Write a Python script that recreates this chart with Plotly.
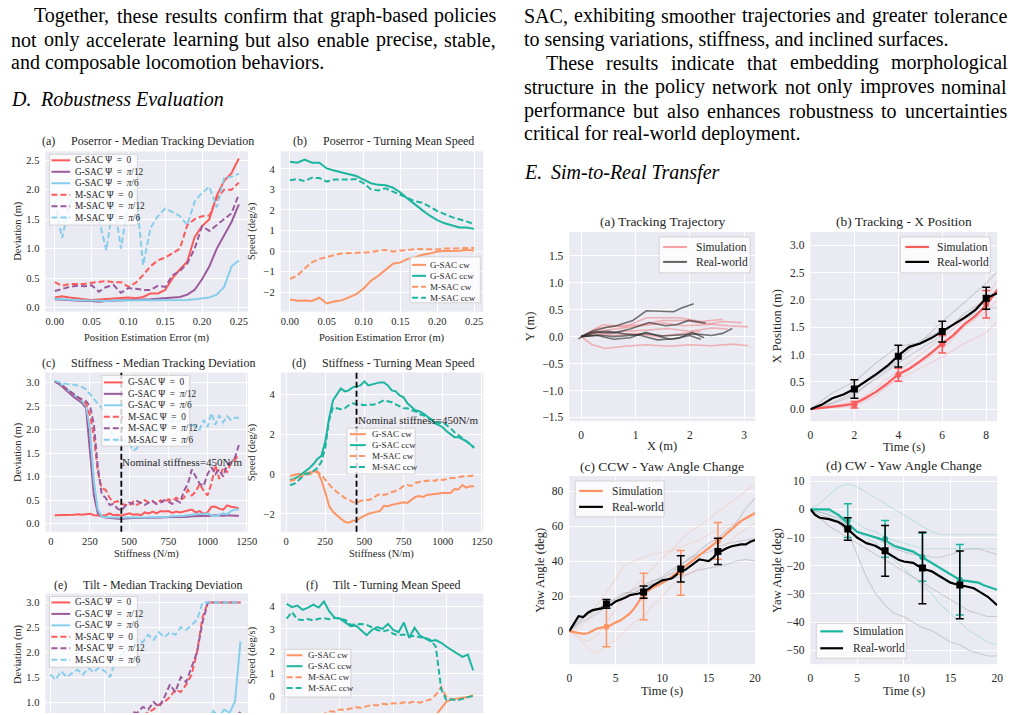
import plotly.graph_objects as go

W, H = 1021, 715
FONT = "Liberation Serif"
INK = "#262626"
BG = "#EAEAF2"
RED = "#fb5b5b"; PURPLE = "#9b5a9b"; SKY = "#87ceeb"
ORANGE = "#fd9463"; TEAL = "#1bb5a0"

# ---------------- data ----------------
POS_ERR = [0.00, 0.01, 0.02, 0.03, 0.04, 0.05, 0.06, 0.07, 0.08, 0.09, 0.10, 0.11, 0.12,
           0.13, 0.14, 0.15, 0.16, 0.17, 0.18, 0.19, 0.20, 0.21, 0.22, 0.23, 0.24, 0.25]
A_G0 = [0.17, 0.19, 0.17, 0.15, 0.14, 0.13, 0.14, 0.14, 0.16, 0.16, 0.17, 0.16, 0.18, 0.24, 0.24, 0.30, 0.50, 0.65, 0.78, 1.20, 1.38, 1.50, 1.90, 2.15, 2.28, 2.53]
A_G12 = [0.14, 0.13, 0.12, 0.12, 0.11, 0.11, 0.10, 0.11, 0.12, 0.12, 0.13, 0.13, 0.13, 0.14, 0.15, 0.16, 0.17, 0.18, 0.22, 0.30, 0.48, 0.70, 1.00, 1.22, 1.45, 1.75]
A_G6 = [0.15, 0.14, 0.13, 0.13, 0.12, 0.12, 0.11, 0.11, 0.12, 0.12, 0.12, 0.12, 0.12, 0.12, 0.13, 0.13, 0.13, 0.13, 0.13, 0.14, 0.16, 0.17, 0.22, 0.35, 0.70, 0.80]
A_M0 = [0.43, 0.37, 0.40, 0.40, 0.40, 0.42, 0.44, 0.45, 0.43, 0.43, 0.35, 0.42, 0.55, 0.70, 0.80, 0.85, 0.92, 1.00, 1.40, 1.50, 1.55, 1.56, 1.85, 2.00, 2.00, 2.12]
A_M12 = [0.28, 0.32, 0.35, 0.37, 0.36, 0.38, 0.27, 0.35, 0.38, 0.25, 0.33, 0.32, 0.30, 0.30, 0.37, 0.35, 0.55, 0.62, 0.75, 1.00, 1.38, 1.30, 1.40, 1.50, 1.60, 1.92]
A_M6 = [1.80, 1.18, 1.75, 1.95, 2.00, 1.80, 1.50, 0.97, 1.80, 1.00, 1.80, 2.00, 0.72, 1.35, 1.55, 1.68, 1.62, 1.55, 1.40, 1.80, 1.95, 2.05, 1.70, 2.20, 2.22, 2.27]

B_Gcw = [-2.35, -2.42, -2.40, -2.43, -2.27, -2.55, -2.45, -2.40, -2.25, -2.10, -1.82, -1.45, -1.20, -0.92, -0.62, -0.55, -0.38, -0.30, -0.18, -0.12, -0.02, 0.00, 0.00, 0.02, 0.05, 0.03]
B_Gccw = [4.35, 4.30, 4.45, 4.30, 4.30, 4.02, 3.92, 3.82, 3.73, 3.65, 3.48, 3.30, 3.22, 3.20, 3.08, 2.85, 2.55, 2.25, 1.98, 1.72, 1.50, 1.35, 1.25, 1.15, 1.15, 1.08]
B_Mcw = [-1.35, -1.20, -0.85, -0.55, -0.38, -0.28, -0.20, -0.12, -0.10, -0.08, -0.05, -0.05, 0.02, 0.05, -0.02, 0.00, 0.05, 0.10, 0.10, 0.10, 0.08, 0.12, 0.12, 0.15, 0.15, 0.15]
B_Mccw = [3.45, 3.50, 3.40, 3.57, 3.55, 3.38, 3.48, 3.47, 3.48, 3.50, 3.30, 3.00, 2.95, 3.05, 2.90, 2.75, 2.60, 2.42, 2.35, 2.15, 1.95, 1.80, 1.65, 1.55, 1.45, 1.32]

STIFF = [25, 50, 75, 100, 125, 150, 175, 200, 225, 250, 275, 300, 325, 350, 375, 400,
         425, 450, 475, 500, 525, 550, 575, 600, 625, 650, 675, 700, 725, 750, 775, 800,
         825, 850, 875, 900, 925, 950, 975, 1000, 1025, 1050, 1075, 1100, 1125, 1150, 1175, 1200]
C_G0 = [0.18, 0.18, 0.18, 0.18, 0.19, 0.19, 0.20, 0.19, 0.20, 0.21, 0.18, 0.17, 0.17, 0.18, 0.22, 0.18,
        0.19, 0.17, 0.20, 0.22, 0.19, 0.20, 0.18, 0.24, 0.22, 0.26, 0.22, 0.27, 0.26, 0.27, 0.23, 0.26,
        0.24, 0.26, 0.28, 0.30, 0.24, 0.27, 0.21, 0.24, 0.36, 0.36, 0.32, 0.30, 0.39, 0.36, 0.35, 0.32]
C_G12 = [3.02, 2.97, 2.90, 2.82, 2.76, 2.68, 2.62, 2.56, 2.45, 1.60, 0.60, 0.22, 0.15, 0.13, 0.12, 0.11,
         0.11, 0.10, 0.11, 0.12, 0.12, 0.12, 0.12, 0.12, 0.13, 0.13, 0.13, 0.13, 0.14, 0.14, 0.14, 0.14,
         0.15, 0.15, 0.15, 0.16, 0.16, 0.16, 0.17, 0.17, 0.17, 0.18, 0.17, 0.17, 0.18, 0.17, 0.17, 0.17]
C_G6 = [3.03, 3.00, 2.93, 2.86, 2.80, 2.72, 2.66, 2.60, 2.50, 2.00, 0.90, 0.30, 0.15, 0.14, 0.13, 0.13,
        0.13, 0.12, 0.13, 0.13, 0.12, 0.13, 0.13, 0.13, 0.14, 0.14, 0.14, 0.15, 0.15, 0.15, 0.16, 0.16,
        0.17, 0.17, 0.18, 0.19, 0.20, 0.21, 0.20, 0.22, 0.18, 0.16, 0.19, 0.22, 0.20, 0.27, 0.30, 0.30]
C_M0 = [3.02, 2.98, 2.92, 2.85, 2.80, 2.74, 2.68, 2.62, 2.55, 2.30, 1.85, 1.10, 0.75, 0.72, 0.55, 0.45,
        0.48, 0.42, 0.40, 0.38, 0.47, 0.40, 0.45, 0.50, 0.45, 0.48, 0.42, 0.50, 0.45, 0.52, 0.48, 0.55,
        0.50, 0.55, 0.72, 0.60, 0.68, 0.85, 0.70, 0.60, 0.85, 1.25, 0.95, 1.20, 1.10, 1.30, 1.35, 1.48]
C_M12 = [3.02, 2.97, 2.93, 2.86, 2.80, 2.74, 2.68, 2.64, 2.60, 2.50, 2.10, 1.20, 0.62, 0.55, 0.40, 0.42,
         0.32, 0.28, 0.38, 0.45, 0.42, 0.48, 0.45, 0.40, 0.45, 0.48, 0.42, 0.45, 0.50, 0.47, 0.42, 0.50,
         0.45, 0.70, 0.85, 1.15, 1.00, 0.85, 0.80, 1.05, 1.20, 1.05, 1.15, 1.00, 1.25, 1.30, 1.40, 1.67]
C_M6 = [3.03, 3.00, 2.98, 2.97, 2.95, 2.95, 2.93, 2.90, 2.85, 2.75, 2.65, 2.55, 2.45, 2.35, 2.10, 1.80,
        1.75, 1.78, 1.75, 1.72, 1.55, 1.60, 1.85, 1.95, 1.90, 2.00, 1.95, 2.05, 2.10, 2.15, 2.20, 2.15,
        2.20, 2.10, 2.05, 2.10, 2.05, 2.00, 2.20, 2.05, 2.35, 2.10, 2.30, 2.15, 2.28, 2.20, 2.25, 2.25]

D_Gcw = [-0.10, -0.05, 0.00, 0.00, 0.05, 0.10, 0.12, 0.15, -0.30, -0.90, -1.60, -1.90, -2.10, -2.25, -2.40, -2.45,
         -2.35, -2.35, -2.20, -2.10, -2.00, -1.95, -1.90, -1.85, -1.60, -1.62, -1.55, -1.50, -1.48, -1.42, -1.45, -1.28,
         -1.15, -1.10, -1.15, -1.05, -1.02, -1.00, -0.98, -0.95, -0.95, -0.95, -0.75, -0.78, -0.55, -0.68, -0.62, -0.62]
D_Gccw = [-0.30, -0.25, -0.15, 0.00, 0.15, 0.30, 0.50, 0.75, 0.90, 1.60, 2.80, 3.70, 4.00, 4.30, 4.15, 4.20,
          4.35, 4.40, 4.45, 4.65, 4.45, 4.50, 4.55, 4.60, 4.60, 4.45, 4.20, 4.15, 3.95, 3.85, 3.55, 3.35,
          3.20, 3.15, 3.05, 2.90, 2.75, 2.55, 2.45, 2.35, 2.15, 2.00, 1.85, 1.85, 1.75, 1.65, 1.50, 1.30]
D_Mcw = [-0.35, -0.30, -0.20, -0.10, -0.05, 0.00, 0.05, 0.10, -0.05, -0.30, -0.55, -0.75, -0.90, -1.05, -1.20, -1.30,
         -1.40, -1.45, -1.35, -1.30, -1.30, -1.25, -1.10, -1.00, -1.05, -1.00, -0.90, -0.85, -0.75, -0.60, -0.55, -0.60,
         -0.45, -0.40, -0.35, -0.35, -0.30, -0.35, -0.25, -0.30, -0.25, -0.20, -0.20, -0.15, -0.12, -0.10, -0.10, -0.05]
D_Mccw = [-0.55, -0.50, -0.35, -0.15, 0.00, 0.05, 0.15, 0.30, 0.60, 1.30, 2.70, 3.35, 3.30, 3.25, 3.30, 3.45,
          3.55, 3.50, 3.50, 3.45, 3.50, 3.48, 3.50, 3.60, 3.70, 3.65, 3.60, 3.50, 3.40, 3.30, 3.30, 3.20,
          3.15, 3.00, 2.95, 2.85, 2.75, 2.65, 2.55, 2.60, 2.45, 2.30, 2.10, 1.95, 1.80, 1.65, 1.50, 1.35]

TILT = [0.0, 0.5, 1.0, 1.5, 2.0, 2.5, 3.0, 3.5, 4.0, 4.5, 5.0, 5.5, 6.0, 6.5, 7.0, 7.5, 8.0, 8.5,
        9.0, 9.5, 10.0, 10.5, 11.0, 11.5, 12.0, 12.5, 13.0, 13.5, 14.0, 14.5, 15.0, 15.5, 16.0, 16.5, 17.0, 17.5]
E_G0 = [0.15, 0.16, 0.15, 0.17, 0.16, 0.18, 0.17, 0.18, 0.19, 0.18, 0.20, 0.19, 0.21, 0.20, 0.22, 0.21, 0.23, 0.22,
        0.25, 0.24, 0.26, 0.25, 0.28, 0.27, 0.30, 0.29, 0.32, 0.35, 0.33, 0.38, 0.42, 0.45, 0.50, 0.55, 0.65, 0.76]
E_G12 = [0.12, 0.12, 0.13, 0.12, 0.13, 0.13, 0.14, 0.13, 0.14, 0.14, 0.15, 0.14, 0.15, 0.16, 0.15, 0.16, 0.17, 0.16,
         0.17, 0.18, 0.18, 0.19, 0.20, 0.21, 0.22, 0.23, 0.25, 0.27, 0.30, 0.33, 0.38, 0.45, 0.52, 0.60, 0.70, 0.80]
E_G6 = [0.13, 0.13, 0.14, 0.13, 0.14, 0.14, 0.15, 0.14, 0.15, 0.15, 0.16, 0.15, 0.16, 0.17, 0.16, 0.17, 0.18, 0.17,
        0.18, 0.19, 0.20, 0.21, 0.22, 0.24, 0.26, 0.28, 0.30, 0.35, 0.45, 0.60, 0.82, 0.70, 0.85, 0.78, 1.02, 2.22]
E_M0 = [0.35, 0.38, 0.36, 0.40, 0.42, 0.40, 0.45, 0.43, 0.48, 0.50, 0.47, 0.55, 0.52, 0.58, 0.62, 0.60, 0.68, 0.72,
        0.80, 0.85, 0.95, 1.00, 1.10, 1.25, 1.20, 1.35, 1.55, 2.00, 2.70, 3.00, 3.00, 3.00, 3.00, 3.00, 3.00, 3.00]
E_M12 = [0.30, 0.33, 0.32, 0.36, 0.38, 0.36, 0.40, 0.42, 0.45, 0.48, 0.46, 0.52, 0.55, 0.60, 0.65, 0.80, 0.78, 0.90,
         0.85, 1.00, 0.90, 1.10, 1.35, 1.20, 1.50, 1.40, 1.70, 2.00, 2.60, 3.00, 3.00, 3.00, 3.00, 3.00, 3.00, 3.00]
E_M6 = [1.55, 1.45, 1.62, 1.50, 1.58, 1.65, 1.55, 1.68, 1.60, 1.70, 1.62, 1.50, 1.85, 1.95, 2.05, 2.15, 2.25, 2.20,
        2.35, 2.25, 2.40, 2.30, 2.40, 2.35, 2.50, 2.45, 2.55, 2.65, 3.00, 3.00, 3.00, 3.00, 3.00, 3.00, 3.00, 3.00]

F_Gcw = [-2.40, -2.38, -2.35, -2.30, -2.28, -2.25, -2.20, -2.15, -2.10, -2.05, -2.00, -1.95, -1.90, -1.85, -1.80, -1.75, -1.70, -1.65,
         -1.60, -1.55, -1.50, -1.45, -1.40, -1.35, -1.30, -1.20, -1.10, -1.00, -0.85, -0.55, -0.25, -0.15, -0.12, -0.10, -0.05, 0.03]
F_Gccw = [4.12, 3.97, 4.04, 3.85, 3.95, 4.08, 3.95, 4.22, 3.78, 3.50, 3.46, 3.30, 3.12, 3.15, 2.95, 2.72, 2.95, 3.08,
          3.00, 3.22, 2.95, 2.85, 3.28, 2.60, 3.05, 2.70, 2.58, 2.45, 2.50, 2.38, 2.20, 2.05, 1.90, 1.75, 1.85, 1.15]
F_Mcw = [-1.30, -1.25, -1.20, -1.10, -1.05, -0.95, -0.90, -0.80, -0.68, -0.70, -0.60, -0.62, -0.55, -0.50, -0.52, -0.45, -0.40, -0.42,
         -0.35, -0.38, -0.32, -0.35, -0.28, -0.30, -0.25, -0.30, -0.22, -0.15, 0.05, 0.40, -0.05, -0.15, -0.18, -0.10, -0.05, 0.02]
F_Mccw = [3.46, 3.75, 3.42, 3.40, 3.44, 3.38, 3.45, 3.48, 3.43, 3.50, 3.45, 3.40, 3.18, 3.20, 3.22, 3.18, 3.05, 2.95,
          2.88, 2.95, 2.78, 2.72, 2.75, 2.65, 2.70, 2.62, 2.60, 2.50, 2.20, 0.30, -0.20, -0.15, -0.20, -0.12, -0.05, 0.00]

# Right (a) trajectories
RA_REAL_X = [[-0.05, 0, 0.2, 0.45, 0.65, 0.95, 1.2, 1.4, 1.7, 1.85, 2.07],
             [0, 0.3, 0.6, 0.9, 1.25, 1.55, 1.75, 1.98, 2.29],
             [0, 0.3, 0.6, 0.9, 1.2, 1.5, 1.8, 2.1, 2.4, 2.6, 2.78],
             [0, 0.3, 0.6, 0.9, 1.19, 1.4, 1.62, 1.8, 2.04, 2.26],
             [0, 0.2, 0.5, 0.8, 1.1, 1.4, 1.7, 2.0, 2.2]]
RA_REAL_Y = [[-0.05, 0, 0.1, 0.17, 0.2, 0.3, 0.48, 0.47, 0.46, 0.53, 0.61],
             [0, 0.08, 0.07, 0.14, 0.26, 0.2, 0.22, 0.3, 0.25],
             [0, 0.03, 0.0, 0.02, 0.06, 0.01, 0.03, 0.05, 0.02, 0.06, 0.15],
             [0, 0.02, -0.05, -0.02, 0.08, 0.02, -0.05, -0.03, 0.08, -0.02],
             [0, 0.08, 0.1, 0.05, 0.02, -0.06, -0.04, 0.02, -0.05]]
RA_SIM_X = [[0, 0.3, 0.7, 1.1, 1.5, 1.9, 2.3, 2.7, 3.07],
            [0, 0.3, 0.7, 1.1, 1.5, 1.9, 2.3, 2.6, 2.95],
            [0, 0.4, 0.8, 1.2, 1.8, 2.2, 2.6],
            [0, 0.2, 0.45, 0.8, 1.2, 1.6, 2.0, 2.4, 2.8, 3.07],
            [0, 0.4, 0.8, 1.2, 1.6, 2.0, 2.4, 2.7],
            [0, 0.3, 0.6, 1.0, 1.4, 1.8, 2.2]]
RA_SIM_Y = [[0, 0.15, 0.2, 0.22, 0.3, 0.3, 0.24, 0.2, 0.18],
            [0, 0.1, 0.15, 0.2, 0.25, 0.2, 0.22, 0.28, 0.26],
            [0, 0.22, 0.18, 0.35, 0.35, 0.28, 0.32],
            [0, -0.15, -0.22, -0.18, -0.15, -0.18, -0.15, -0.17, -0.14, -0.17],
            [0, 0.05, 0.1, 0.12, 0.15, 0.1, 0.16, 0.14],
            [0, 0.08, 0.02, 0.06, 0.0, 0.05, 0.1]]

# Right (b) X position
RB_T = [0, 0.5, 1, 1.5, 2, 2.5, 3, 3.5, 4, 4.5, 5, 5.5, 6, 6.5, 7, 7.5, 8, 8.5]
RB_REAL = [0, 0.08, 0.2, 0.27, 0.37, 0.5, 0.64, 0.79, 0.98, 1.14, 1.2, 1.3, 1.42, 1.54, 1.67, 1.81, 2.03, 2.12]
RB_SIM = [0, 0.02, 0.04, 0.07, 0.1, 0.2, 0.32, 0.47, 0.64, 0.74, 0.88, 1.03, 1.2, 1.35, 1.55, 1.7, 1.9, 2.18]
RB_RUN_T = [0, 1, 2, 3, 4, 5, 6, 7, 8, 8.5]
RB_REAL_RUNS = [[0, 0.30, 0.50, 0.85, 1.15, 1.22, 1.60, 1.95, 2.30, 2.52],
                [0, 0.10, 0.25, 0.60, 0.90, 1.25, 1.45, 1.65, 1.85, 1.85],
                [0, 0.12, 0.30, 0.55, 0.85, 1.10, 1.35, 1.75, 2.00, 2.20]]
RB_SIM_RUNS = [[0, 0.05, 0.15, 0.30, 0.55, 0.75, 0.95, 1.20, 1.40, 1.60],
               [0, 0.03, 0.08, 0.40, 0.70, 1.00, 1.30, 1.65, 2.05, 2.35],
               [0, 0.02, 0.05, 0.25, 0.60, 0.85, 1.10, 1.50, 1.80, 2.00]]
RB_ERR_T = [2, 4, 6, 8]
RB_REAL_PTS = [0.37, 0.97, 1.42, 2.03]; RB_REAL_ERR = [0.17, 0.20, 0.19, 0.20]
RB_SIM_PTS = [0.08, 0.63, 1.19, 1.92]; RB_SIM_ERR = [0.06, 0.12, 0.16, 0.25]

# Right (c),(d) yaw
YAW_T = [0, 0.5, 1, 1.5, 2, 2.5, 3, 3.5, 4, 4.5, 5, 5.5, 6, 6.5, 7, 7.5, 8, 8.5, 9, 9.5, 10,
         10.5, 11, 11.5, 12, 12.5, 13, 13.5, 14, 14.5, 15, 15.5, 16, 16.5, 17, 17.5, 18, 18.5, 19, 19.5, 20]
RC_REAL = [0, 4, 8.5, 8, 10.5, 12, 12.5, 13, 15.5, 15, 17, 18, 19, 20.5, 21, 21.5, 22.5, 24, 26, 27.5, 29,
           29.5, 30, 32, 34.5, 35, 37, 39, 41, 40.5, 40, 42, 45, 46, 47.5, 48.5, 49, 49.5, 49.5, 51, 52]
RC_SIM = [0, -0.5, -1.2, -1.6, -1.2, 0, 1.5, 2, 2.5, 3.5, 5, 6, 8, 10, 13, 17, 21, 23, 25, 26, 27.5,
          29, 31, 33, 35, 37, 39, 41, 43.5, 45.5, 47.5, 49, 51, 53.5, 56, 58.5, 61, 63, 64.5, 66, 67.5]
RD_REAL = [0, -2, -3, -3.2, -3.5, -4, -4.5, -5.5, -7, -8.5, -10, -11, -12, -12.5, -13, -14, -15, -16, -17, -18, -18.5,
           -18.8, -19, -20, -21, -21.5, -22, -23, -24, -25, -26, -26.5, -27, -27.2, -27.5, -28, -29, -30, -31, -32.5, -34]
RD_SIM = [0, 0, 0, 0, 0, -1, -2, -3.5, -5, -6.5, -8, -8.5, -9, -9.5, -10, -10.5, -11, -12, -13, -13.5, -14,
          -14.5, -15, -16, -17, -18, -19, -20, -21, -22, -23, -24, -25, -25.3, -25.5, -25.8, -26, -26.8, -27.5, -28, -28.5]
RUN_T = [0, 1, 2, 3, 4, 5, 6, 7, 8, 9, 10, 11, 12, 13, 14, 15, 16, 17, 18, 19, 20]
RC_REAL_RUNS = [[0, 5, 10, 12, 16, 18, 21, 24, 26, 29, 30, 33, 38, 41, 46, 50, 53, 58, 62, 70, 76],
                [0, 4, 7, 10, 14, 17, 20, 22, 25, 27, 28, 30, 31, 33, 35, 36, 37, 38, 40, 41, 40],
                [0, 6, 9, 13, 15, 19, 22, 22, 24, 28, 31, 35, 38, 42, 44, 45, 48, 50, 51, 52, 53]]
RC_SIM_RUNS = [[0, -3, -6, -2, 5, 12, 20, 25, 30, 36, 42, 46, 52, 57, 60, 64, 68, 72, 76, 80, 84],
               [0, -4, -10, -13, -8, -5, 0, 5, 8, 15, 20, 26, 30, 33, 36, 40, 45, 50, 55, 58, 62],
               [0, 2, 6, 15, 22, 30, 38, 40, 42, 44, 45, 46, 48, 50, 52, 55, 58, 60, 62, 64, 66]]
RD_REAL_RUNS = [[0, -2, -3, -5, -8, -16, -24, -30, -34, -37, -38, -40, -42, -43, -45, -47, -48, -50, -51, -52, -52],
                [0, -3, -6, -8, -10, -12, -14, -16, -18, -20, -22, -24, -26, -28, -30, -32, -34, -36, -37, -38, -38],
                [0, -1, -2, -3, -6, -8, -9, -10, -12, -14, -15, -16, -16, -17, -17, -16, -15, -14, -14, -15, -16]]
RD_SIM_RUNS = [[0, 2, 5, 8, 9, 8, 6, 4, 2, 0, -2, -4, -6, -8, -9, -9, -9, -9, -9, -9, -9],
               [0, -1, -2, -4, -6, -8, -10, -12, -15, -18, -21, -24, -27, -30, -34, -37, -40, -43, -45, -47, -48],
               [0, 0, -1, -2, -3, -5, -7, -8, -10, -11, -12, -13, -14, -14, -14, -14, -14, -14, -14, -14, -14]]
YAW_ERR_T = [4, 8, 12, 16]
RC_SIM_PTS = [2.5, 19.8, 33.3, 51.5]; RC_SIM_ERR = [11.5, 13.3, 12.8, 10.5]
RC_REAL_PTS = [15.5, 22.3, 35.5, 45.5]; RC_REAL_ERR = [2.5, 3.5, 7.5, 7.5]
RD_SIM_PTS = [-4, -10.5, -17, -25]; RD_SIM_ERR = [6, 6.5, 8.5, 12.5]
RD_REAL_PTS = [-7, -14.7, -20.8, -26.8]; RD_REAL_ERR = [4, 9, 12.7, 12]

SP = "\u2002"
PSI_LABELS = ["G-SAC Ψ" + SP + "=" + SP + "0", "G-SAC Ψ" + SP + "=" + SP + "<i>π</i>/12",
              "G-SAC Ψ" + SP + "=" + SP + "<i>π</i>/6", "M-SAC Ψ" + SP + "=" + SP + "0",
              "M-SAC Ψ" + SP + "=" + SP + "<i>π</i>/12", "M-SAC Ψ" + SP + "=" + SP + "<i>π</i>/6"]
DIR_LABELS = ["G-SAC cw", "G-SAC ccw", "M-SAC cw", "M-SAC ccw"]

LEFT_TEXT = [("Together, these results confirm that graph-based policies", 15, 30, 497),
             ("not only accelerate learning but also enable precise, stable,", 39, 7, 497),
             ("and composable locomotion behaviors.", 62, 7, None)]
RIGHT_TEXT = [("SAC, exhibiting smoother trajectories and greater tolerance", 15, 526, 1014),
              ("to sensing variations, stiffness, and inclined surfaces.", 39, 526, None),
              ("These results indicate that embedding morphological", 62, 548, 1014),
              ("structure in the policy network not only improves nominal", 86, 526, 1014),
              ("performance but also enhances robustness to uncertainties", 110, 526, 1014),
              ("critical for real-world deployment.", 133, 526, None)]

# ---------------- helpers ----------------
_TR = dict(zip("abcdefghijklmnopqrstuvwxyz",
               [444, 500, 444, 500, 444, 333, 500, 500, 278, 278, 500, 278, 778, 500, 500, 500, 500, 333, 389, 278, 500, 500, 722, 500, 500, 444]))
_TR.update(zip("ABCDEFGHIJKLMNOPQRSTUVWXYZ",
               [722, 667, 667, 722, 611, 556, 722, 722, 333, 389, 722, 611, 889, 722, 722, 556, 722, 667, 556, 611, 722, 722, 944, 722, 722, 611]))
_TR.update({" ": 250, ",": 250, ".": 250, "-": 333, "(": 333, ")": 333, "=": 564, "/": 278})


def tw(s, size):
    return sum(_TR.get(c, 500) for c in s) * size / 1000.0


def px(x):
    return x / W


def py(y):
    return 1 - y / H


fig = go.Figure()
annotations = []
shapes = []


def ann(x, y, text, size, xanchor="left", yanchor="middle", angle=0, color=INK):
    annotations.append(dict(x=px(x), y=py(y), xref="paper", yref="paper", text=text, showarrow=False,
                            xanchor=xanchor, yanchor=yanchor, textangle=angle, borderpad=0,
                            font=dict(family=FONT, size=size, color=color)))


def text_line(s, y, x0, x1, size=20):
    if x1 is None:
        ann(x0, y, s, size, color="black")
        return
    words = s.split(" ")
    ws = [tw(w, size) for w in words]
    gap = (x1 - x0 - sum(ws)) / (len(words) - 1)
    x = x0
    for w, wd in zip(words, ws):
        ann(x, y, w, size, color="black")
        x += wd + gap


for s, y, x0, x1 in LEFT_TEXT + RIGHT_TEXT:
    text_line(s, y, x0, x1)
ann(7, 98, "<i>D.</i>", 20, color="black")
ann(36, 98, "<i>Robustness Evaluation</i>", 20, color="black")
ann(526, 172, "<i>E.</i>", 20, color="black")
ann(553, 172, "<i>Sim-to-Real Transfer</i>", 20, color="black")

# axes
BOX = {1: (43, 248, 151, 312), 2: (281, 486, 151, 312),
       3: (43, 248, 373, 533), 4: (281, 486, 373, 533),
       5: (43, 248, 595, 715), 6: (281, 486, 595, 715),
       7: (573, 761, 232, 422), 8: (817, 1006, 232, 422),
       9: (573, 761, 477, 666), 10: (817, 1006, 477, 666)}
AX = {
    1: ([-0.0125, 0.2625], [-0.07, 2.65], [0, 0.05, 0.1, 0.15, 0.2, 0.25], [0, 0.5, 1, 1.5, 2, 2.5], ".2f", ".1f", True),
    2: ([-0.0125, 0.2625], [-2.95, 4.85], [0, 0.05, 0.1, 0.15, 0.2, 0.25], [-2, -1, 0, 1, 2, 3, 4], ".2f", "d", True),
    3: ([-34, 1259], [-0.17, 3.21], [0, 250, 500, 750, 1000, 1250], [0, 0.5, 1, 1.5, 2, 2.5, 3], "d", ".1f", True),
    4: ([-34, 1259], [-2.9, 5.1], [0, 250, 500, 750, 1000, 1250], [-2, 0, 2, 4], "d", "d", True),
    5: ([-0.45, 18.2], [0.78, 3.18], [0, 5, 10, 15], [1, 1.5, 2, 2.5, 3], "d", ".1f", False),
    6: ([-0.56, 18.45], [-0.76, 4.58], [0, 5, 10, 15], [0, 1, 2, 3, 4], "d", "d", False),
    7: ([-0.22, 3.2], [-1.57, 1.94], [0, 1, 2, 3], [-1.5, -1, -0.5, 0, 0.5, 1, 1.5], "d", ".1f", True),
    8: ([0, 8.5], [-0.22, 3.24], [0, 2, 4, 6, 8], [0, 0.5, 1, 1.5, 2, 2.5, 3], "d", ".1f", True),
    9: ([0, 20], [-18.9, 88.6], [0, 5, 10, 15, 20], [0, 20, 40, 60, 80], "d", "d", True),
    10: ([0, 20], [-54.9, 11.8], [0, 5, 10, 15, 20], [-50, -40, -30, -20, -10, 0, 10], "d", "d", True),
}
layout_axes = {}
for i, (x0, x1, yt, yb) in BOX.items():
    xr, yr, xt, yt_, xf, yf, showx = AX[i]
    tfs = 10.5 if i <= 6 else 11.5
    sfx = "" if i == 1 else str(i)
    tf = dict(family=FONT, size=tfs, color=INK)
    layout_axes["xaxis" + sfx] = dict(domain=[px(x0), px(x1)], range=xr, anchor="y" + sfx, tickvals=xt,
                                     tickformat=xf, showgrid=True, gridcolor="white", gridwidth=1,
                                     zeroline=False, showline=False, ticks="", showticklabels=showx,
                                     tickfont=tf, fixedrange=True, ticklabelstandoff=(2 if i <= 6 else 5))
    layout_axes["yaxis" + sfx] = dict(domain=[py(yb), py(yt)], range=yr, anchor="x" + sfx, tickvals=yt_,
                                     tickformat=yf, showgrid=True, gridcolor="white", gridwidth=1,
                                     zeroline=False, showline=False, ticks="", tickfont=tf, fixedrange=True,
                                     ticklabelstandoff=5)


def line(i, x, y, color, width=2.0, dash=None, opacity=1.0):
    sfx = "" if i == 1 else str(i)
    fig.add_trace(go.Scatter(x=x, y=y, mode="lines", xaxis="x" + sfx, yaxis="y" + sfx, opacity=opacity,
                             line=dict(color=color, width=width, dash=dash), hoverinfo="skip"))


def errs(i, x, y, e, color, symbol, size):
    sfx = "" if i == 1 else str(i)
    fig.add_trace(go.Scatter(x=x, y=y, mode="markers", xaxis="x" + sfx, yaxis="y" + sfx,
                             marker=dict(color=color, symbol=symbol, size=size),
                             error_y=dict(type="data", array=e, color=color, thickness=1.5, width=4),
                             hoverinfo="skip"))


DASH = "6px,3px"
PSI_COLORS = [RED, PURPLE, SKY, RED, PURPLE, SKY]
PSI_DASH = [None, None, None, DASH, DASH, DASH]
DIR_COLORS = [ORANGE, TEAL, ORANGE, TEAL]
DIR_DASH = [None, None, DASH, DASH]

for i, xs, series in [(1, POS_ERR, [A_G0, A_G12, A_G6, A_M0, A_M12, A_M6]),
                      (3, STIFF, [C_G0, C_G12, C_G6, C_M0, C_M12, C_M6]),
                      (5, TILT, [E_G0, E_G12, E_G6, E_M0, E_M12, E_M6])]:
    for s, c, d in zip(series, PSI_COLORS, PSI_DASH):
        line(i, xs, s, c, dash=d)
for i, xs, series in [(2, POS_ERR, [B_Gcw, B_Gccw, B_Mcw, B_Mccw]),
                      (4, STIFF, [D_Gcw, D_Gccw, D_Mcw, D_Mccw]),
                      (6, TILT, [F_Gcw, F_Gccw, F_Mcw, F_Mccw])]:
    for s, c, d in zip(series, DIR_COLORS, DIR_DASH):
        line(i, xs, s, c, dash=d)

# right (a)
for x, y in zip(RA_SIM_X, RA_SIM_Y):
    line(7, x, y, "#f08080", width=1.6, opacity=0.55)
for x, y in zip(RA_REAL_X, RA_REAL_Y):
    line(7, x, y, "#303030", width=1.6, opacity=0.65)
# right (b)
for r in RB_REAL_RUNS:
    line(8, RB_RUN_T, r, "#808080", width=1.1, opacity=0.3)
for r in RB_SIM_RUNS:
    line(8, RB_RUN_T, r, RED, width=1.1, opacity=0.2)
line(8, RB_T, RB_SIM, RED, width=2.2)
line(8, RB_T, RB_REAL, "black", width=2.2)
errs(8, RB_ERR_T, RB_SIM_PTS, RB_SIM_ERR, RED, "circle", 6)
errs(8, RB_ERR_T, RB_REAL_PTS, RB_REAL_ERR, "black", "square", 7)
# right (c)
for r in RC_REAL_RUNS:
    line(9, RUN_T, r, "#808080", width=1.1, opacity=0.3)
for r in RC_SIM_RUNS:
    line(9, RUN_T, r, ORANGE, width=1.1, opacity=0.2)
line(9, YAW_T, RC_SIM, ORANGE, width=2.2)
line(9, YAW_T, RC_REAL, "black", width=2.2)
errs(9, YAW_ERR_T, RC_SIM_PTS, RC_SIM_ERR, ORANGE, "circle", 6)
errs(9, YAW_ERR_T, RC_REAL_PTS, RC_REAL_ERR, "black", "square", 7)
# right (d)
for r in RD_REAL_RUNS:
    line(10, RUN_T, r, "#808080", width=1.1, opacity=0.3)
for r in RD_SIM_RUNS:
    line(10, RUN_T, r, TEAL, width=1.1, opacity=0.2)
line(10, YAW_T, RD_SIM, TEAL, width=2.2)
line(10, YAW_T, RD_REAL, "black", width=2.2)
errs(10, YAW_ERR_T, RD_SIM_PTS, RD_SIM_ERR, TEAL, "circle", 6)
errs(10, YAW_ERR_T, RD_REAL_PTS, RD_REAL_ERR, "black", "square", 7)

# nominal stiffness lines
for i, ty in [(3, 1.3), (4, 2.73)]:
    shapes.append(dict(type="line", xref="x%d" % i, yref="y%d domain" % i, x0=450, x1=450, y0=0, y1=1,
                       line=dict(color="black", width=1.8, dash=DASH)))
    annotations.append(dict(x=450, y=ty, xref="x%d" % i, yref="y%d" % i, text="Nominal stiffness=450N/m",
                            showarrow=False, xanchor="left", yanchor="middle", borderpad=0,
                            font=dict(family=FONT, size=11, color=INK)))


def legend(box, entries, lx0, lx1, tx, ys, fs):
    x0, y0, x1, y1 = box
    shapes.append(dict(type="rect", xref="paper", yref="paper", x0=px(x0), x1=px(x1), y0=py(y1), y1=py(y0),
                       fillcolor="rgba(255,255,255,0.8)", line=dict(color="#cccccc", width=0.8)))
    for (lab, col, dsh, wd), yy in zip(entries, ys):
        shapes.append(dict(type="line", xref="paper", yref="paper", x0=px(lx0), x1=px(lx1), y0=py(yy), y1=py(yy),
                           line=dict(color=col, width=wd, dash=dsh)))
        ann(tx, yy, lab, fs)


psi_entries = [(l, c, d, 2.0) for l, c, d in zip(PSI_LABELS, PSI_COLORS, PSI_DASH)]
dir_entries = [(l, c, d, 2.0) for l, c, d in zip(DIR_LABELS, DIR_COLORS, DIR_DASH)]
legend((47, 154, 136, 225), psi_entries, 49, 68, 72, [160, 171.5, 183, 194.5, 206, 217.5], 9.3)
legend((100, 376, 189, 447), psi_entries, 102, 121, 125, [383, 394.5, 406, 417.5, 429, 440.5], 9.3)
legend((47, 598, 136, 669), psi_entries, 49, 68, 72, [604, 615.5, 627, 638.5, 650, 661.5], 9.3)
legend((412, 257, 483, 303), dir_entries, 414, 428, 431, [265, 276, 287, 298], 9)
legend((348, 429, 417, 475), dir_entries, 351, 367, 372, [435, 446, 457, 468], 9)
legend((285, 651, 352, 699), dir_entries, 287, 303, 308, [657, 668, 679, 690], 9)
legend((664, 237, 756, 273), [("Simulation", "#f4a0a0", None, 2), ("Real-world", "#606060", None, 2)],
       668, 692, 700, [247, 262], 11.5)
legend((908, 237, 999, 273), [("Simulation", RED, None, 2.2), ("Real-world", "black", None, 2.2)],
       913, 937, 944, [247, 262], 11.5)
legend((579, 482, 669, 518), [("Simulation", ORANGE, None, 2.2), ("Real-world", "black", None, 2.2)],
       583, 607, 615, [492, 508], 11.5)
legend((823, 625, 914, 660), [("Simulation", TEAL, None, 2.2), ("Real-world", "black", None, 2.2)],
       827, 850, 859, [633, 650], 11.5)

# titles
LEFT_TITLES = [("(a)", "Poserror - Median Tracking Deviation", 1, 141),
               ("(b)", "Poserror - Turning Mean Speed", 2, 141),
               ("(c)", "Stiffness - Median Tracking Deviation", 3, 364),
               ("(d)", "Stiffness - Turning Mean Speed", 4, 364),
               ("(e)", "Tilt - Median Tracking Deviation", 5, 586),
               ("(f)", "Tilt - Turning Mean Speed", 6, 586)]
for lab, title, i, y in LEFT_TITLES:
    x0, x1 = BOX[i][0], BOX[i][1]
    total = tw(lab, 12) + 16 + tw(title, 12)
    start = (x0 + x1) / 2 - total / 2
    ann(start, y, lab, 12)
    ann(start + tw(lab, 12) + 16, y, title, 12)
RIGHT_TITLES = [("(a) Tracking Trajectory", 7, 221), ("(b) Tracking - X Position", 8, 221),
                ("(c) CCW - Yaw Angle Change", 9, 467), ("(d) CW - Yaw Angle Change", 10, 466)]
for t, i, y in RIGHT_TITLES:
    ann((BOX[i][0] + BOX[i][1]) / 2, y, t, 13.5, xanchor="center")

# axis titles
for i, yc in [(1, 231), (3, 453), (5, 656)]:
    ann(15, yc, "Deviation (m)", 10.5, xanchor="center", angle=-90)
for i, yc in [(2, 231), (4, 453), (6, 657)]:
    ann(252, yc, "Speed (deg/s)", 10.5, xanchor="center", angle=-90)
for i, t, y in [(1, "Position Estimation Error (m)", 338), (2, "Position Estimation Error (m)", 338),
                (3, "Stiffness (N/m)", 555), (4, "Stiffness (N/m)", 555)]:
    ann((BOX[i][0] + BOX[i][1]) / 2, y, t, 10.5, xanchor="center")
for i, t, y in [(7, "X (m)", 447), (8, "Time (s)", 448), (9, "Time (s)", 693), (10, "Time (s)", 693)]:
    ann((BOX[i][0] + BOX[i][1]) / 2, y, t, 12.5, xanchor="center")
for i, t, x in [(7, "Y (m)", 533), (8, "X Position (m)", 783), (9, "Yaw Angle (deg)", 543), (10, "Yaw Angle (deg)", 783)]:
    ann(x, (BOX[i][2] + BOX[i][3]) / 2, t, 12.5, xanchor="center", angle=-90)

fig.update_layout(width=W, height=H, margin=dict(l=0, r=0, t=0, b=0), paper_bgcolor="white",
                  plot_bgcolor=BG, showlegend=False, annotations=annotations, shapes=shapes,
                  font=dict(family=FONT, color=INK), **layout_axes)
fig.write_html("out.html")
